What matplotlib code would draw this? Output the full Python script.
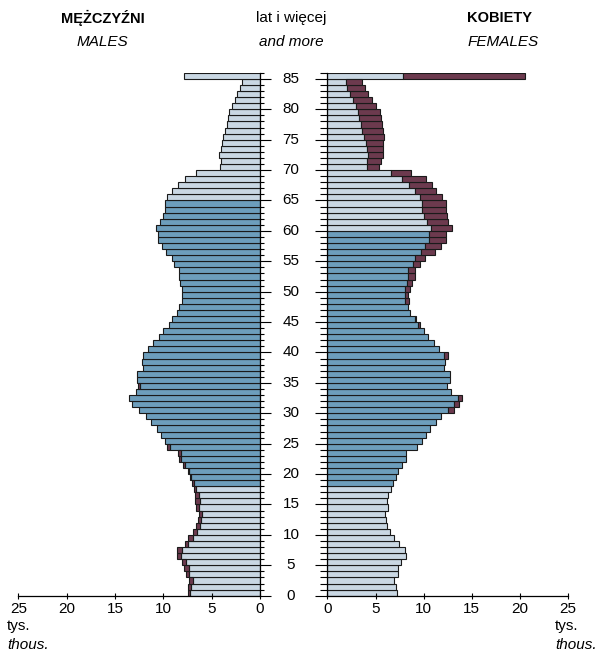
import numpy as np
import matplotlib.pyplot as plt
from matplotlib.transforms import blended_transform_factory

plt.rcParams['font.family'] = ['Liberation Sans', 'DejaVu Sans']

# Age groups 0..84 plus "85 and more", thousands of persons
ages = np.arange(0, 86)

males = np.array([
    7.48, 7.41, 7.34, 7.69, 7.83, 8.10, 8.62, 8.62, 7.76, 7.41,        # 0-9
    6.97, 6.66, 6.45, 6.31, 6.66, 6.72, 6.72, 6.79, 7.07, 7.24,        # 10-19
    7.41, 8.00, 8.38, 8.45, 9.65, 9.82, 10.24, 10.62, 11.30, 11.79,    # 20-29
    12.55, 13.20, 13.52, 12.86, 12.60, 12.69, 12.69, 12.07, 12.24, 12.07,  # 30-39
    11.62, 11.03, 10.48, 10.00, 9.38, 9.10, 8.62, 8.34, 8.10, 8.10,    # 40-49
    8.10, 8.27, 8.34, 8.34, 8.93, 9.07, 9.76, 10.10, 10.52, 10.52,     # 50-59
    10.75, 10.31, 10.07, 9.82, 9.82, 9.58, 9.06, 8.47, 7.78, 6.57,     # 60-69
    4.15, 4.08, 4.25, 4.08, 3.98, 3.80, 3.63, 3.46, 3.28, 3.18,        # 70-79
    2.94, 2.60, 2.35, 2.07, 1.90, 7.90,                                # 80-85+
])

females = np.array([
    7.19, 7.12, 6.92, 7.37, 7.37, 7.61, 8.20, 8.06, 7.44, 6.95,        # 0-9
    6.50, 6.22, 6.12, 6.02, 6.29, 6.22, 6.33, 6.61, 6.85, 7.09,        # 10-19
    7.30, 7.78, 8.20, 8.13, 9.34, 9.82, 10.24, 10.62, 11.30, 11.79,    # 20-29
    13.11, 13.70, 14.01, 12.86, 12.45, 12.69, 12.69, 12.07, 12.24, 12.49,  # 30-39
    11.62, 11.03, 10.48, 10.00, 9.58, 9.23, 8.62, 8.34, 8.47, 8.40,    # 40-49
    8.58, 8.82, 9.10, 9.10, 9.62, 10.13, 11.14, 11.76, 12.35, 12.35,   # 50-59
    12.97, 12.52, 12.45, 12.35, 12.28, 11.86, 11.31, 10.90, 10.20, 8.65,  # 60-69
    5.36, 5.60, 5.77, 5.81, 5.81, 5.91, 5.77, 5.64, 5.53, 5.43,        # 70-79
    5.08, 4.67, 4.25, 3.87, 3.63, 20.52,                               # 80-85+
])

# working age: males 18-64, females 18-59
work_min = 18
work_max_m = 64
work_max_f = 59

light = '#c9d7e3'
blue = '#6d9ebc'
maroon = '#6c3a4e'
edge = '#1a1a1a'

fig = plt.figure(figsize=(6, 6.56), dpi=100)
ax_m = fig.add_axes([18.3 / 600, 60.3 / 656, 241.7 / 600, 522.9 / 656])
ax_f = fig.add_axes([327.5 / 600, 60.3 / 656, 240.5 / 600, 522.9 / 656])


def draw_side(ax, own, other, work_max):
    # common part in light / blue, surplus over the other sex in maroon
    base = np.minimum(own, other)
    extra = own - other
    cols = [blue if work_min <= a <= work_max else light for a in ages]
    ax.barh(ages, base, height=1, align='edge', color=cols, edgecolor=edge, linewidth=0.8)
    more = extra > 0
    ax.barh(ages[more], extra[more], left=base[more], height=1, align='edge',
            color=maroon, edgecolor=edge, linewidth=0.8)
    ax.set_ylim(0, 86)
    ax.set_xticks(range(0, 26, 5))
    ax.set_yticks(range(0, 86, 5))
    ax.set_yticks(np.arange(0, 87), minor=True)
    ax.spines['top'].set_visible(False)
    ax.tick_params(axis='x', direction='inout', length=5, width=0.8, labelsize=11, pad=2)
    for s in ax.spines.values():
        s.set_linewidth(0.9)


draw_side(ax_m, males, females, work_max_m)
draw_side(ax_f, females, males, work_max_f)

# males: axis reversed, ticks on the right side
ax_m.set_xlim(25, 0)
ax_m.spines['left'].set_visible(False)
ax_m.yaxis.set_ticks_position('right')
ax_m.tick_params(axis='y', which='major', direction='out', length=8, width=0.8, labelright=False)
ax_m.tick_params(axis='y', which='minor', direction='out', length=3, width=0.8)

# females
ax_f.set_xlim(0, 25)
ax_f.spines['right'].set_visible(False)
ax_f.yaxis.set_ticks_position('left')
ax_f.tick_params(axis='y', which='major', direction='out', length=9, width=0.8, labelleft=False)
ax_f.tick_params(axis='y', which='minor', direction='out', length=5, width=0.8)

# age labels in the middle
trans = blended_transform_factory(fig.transFigure, ax_m.transData)
for a in range(0, 86, 5):
    ax_m.text(0.485, a, str(a), transform=trans, ha='center', va='center',
              fontsize=11, clip_on=False)

# headers
fig.text(0.172, 0.9726, 'MĘŻCZYŹNI', ha='center', va='center', fontsize=10.5, fontweight='bold')
fig.text(0.170, 0.936, 'MALES', ha='center', va='center', fontsize=11, style='italic')
fig.text(0.485, 0.9726, 'lat i więcej', ha='center', va='center', fontsize=11)
fig.text(0.485, 0.936, 'and more', ha='center', va='center', fontsize=11, style='italic')
fig.text(0.833, 0.9726, 'KOBIETY', ha='center', va='center', fontsize=10.5, fontweight='bold')
fig.text(0.838, 0.936, 'FEMALES', ha='center', va='center', fontsize=11, style='italic')

# units
fig.text(7 / 600, 1 - 626 / 656, 'tys.', ha='left', va='center', fontsize=11)
fig.text(7 / 600, 1 - 645 / 656, 'thous.', ha='left', va='center', fontsize=11, style='italic')
fig.text(555 / 600, 1 - 626 / 656, 'tys.', ha='left', va='center', fontsize=11)
fig.text(555 / 600, 1 - 645 / 656, 'thous.', ha='left', va='center', fontsize=11, style='italic')

plt.savefig('out.png', dpi=100)
